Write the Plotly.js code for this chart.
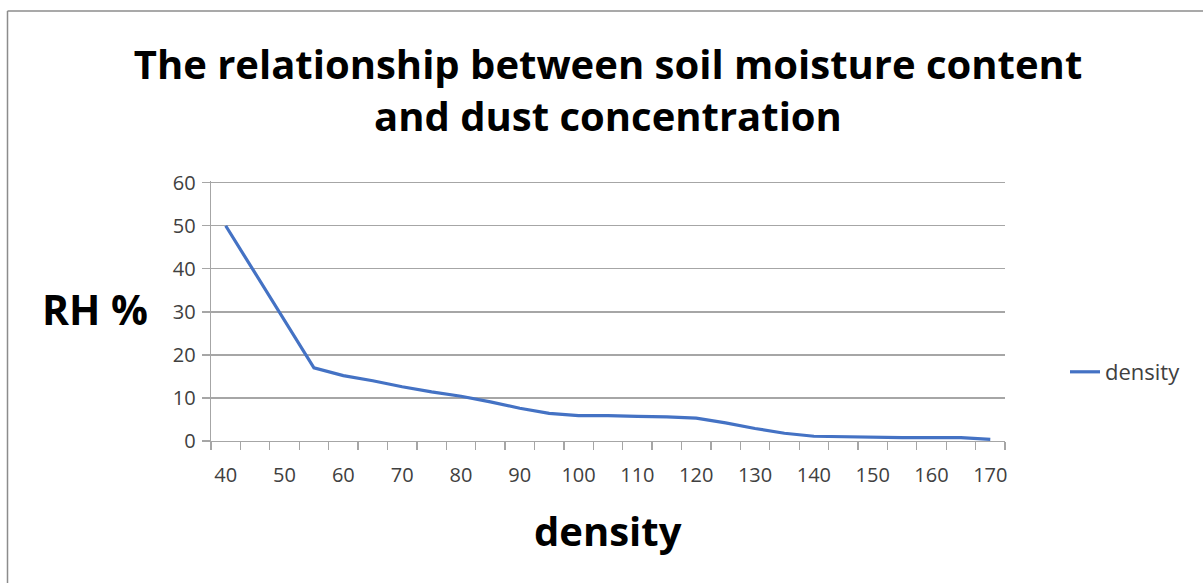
<!DOCTYPE html>
<html>
<head>
<meta charset="utf-8">
<script src="https://cdn.plot.ly/plotly-3.0.1.min.js"></script>
<style>
html,body{margin:0;padding:0;background:#fff;}
#chart{width:1203px;height:583px;}
</style>
</head>
<body>
<div id="chart"></div>
<script>
// Data
const densityValues = [40, 45, 50, 55, 60, 65, 70, 75, 80, 85, 90, 95, 100, 105, 110, 115, 120, 125, 130, 135, 140, 145, 150, 155, 160, 165, 170];
const rhValues = [50, 39, 28, 17, 15.2, 14, 12.6, 11.4, 10.4, 9.1, 7.6, 6.4, 5.9, 5.9, 5.7, 5.6, 5.3, 4.2, 2.9, 1.8, 1.1, 1.0, 0.8, 0.8, 0.8, 0.8, 0.4];
const xTickLabels = [40, 50, 60, 70, 80, 90, 100, 110, 120, 130, 140, 150, 160, 170];
const yTickLabels = [0, 10, 20, 30, 40, 50, 60];
const seriesName = 'density';
const chartTitle = 'The relationship between soil moisture content<br>and dust concentration';
const xTitle = 'density';
const yTitle = 'RH %';

const W = 1203, H = 583;
const L = 211, R = 198, T = 181, B = 142;
const pw = W - L - R, ph = H - T - B;
const px = v => (v - L) / pw;          // pixel x -> paper x
const py = v => (H - B - v) / ph;      // pixel y -> paper y

const font = '"Open Sans", "Noto Sans", sans-serif';
const grey = '#a6a6a6';

const trace = {
  x: densityValues,
  y: rhValues,
  type: 'scatter',
  mode: 'lines',
  name: seriesName,
  line: {color: '#4472C4', width: 3.2}
};

const layout = {
  width: W, height: H,
  margin: {l: L, r: R, t: T, b: B, pad: 0},
  paper_bgcolor: '#fff', plot_bgcolor: '#fff',
  font: {family: font, color: '#404040', size: 20},
  title: {
    text: chartTitle,
    font: {family: font, size: 40, color: '#000', weight: 'bold'},
    xref: 'paper', x: 0.5, xanchor: 'center',
    yref: 'container', y: 1 - 79 / H, yanchor: 'top'
  },
  showlegend: true,
  legend: {
    x: px(1065), y: py(372), xanchor: 'left', yanchor: 'middle',
    font: {family: font, size: 22, color: '#404040'},
    bgcolor: 'rgba(0,0,0,0)'
  },
  xaxis: {
    range: [37.5, 172.5],
    tickmode: 'array', tickvals: xTickLabels, ticktext: xTickLabels.map(String),
    ticks: '', showgrid: false, zeroline: false,
    showline: true, linecolor: grey, linewidth: 1.3,
    tickfont: {family: font, size: 20, color: '#404040'},
    minor: {tick0: 37.5, dtick: 5, ticks: 'outside', ticklen: 8, tickcolor: grey, tickwidth: 1.3, showgrid: false},
    ticklabelstandoff: 16
  },
  yaxis: {
    range: [0, 60.4],
    tickmode: 'array', tickvals: yTickLabels, ticktext: yTickLabels.map(String),
    ticks: 'outside', ticklen: 8, tickcolor: grey, tickwidth: 1.3,
    showgrid: true, gridcolor: grey, gridwidth: 1.3, zeroline: false,
    showline: true, linecolor: grey, linewidth: 1.3,
    tickfont: {family: font, size: 20, color: '#404040'},
    ticklabelstandoff: 2
  },
  annotations: [
    {text: yTitle, xref: 'paper', yref: 'paper', x: px(95), y: py(309),
     xanchor: 'center', yanchor: 'middle', showarrow: false,
     font: {family: font, size: 41, color: '#000', weight: 'bold'}},
    {text: xTitle, xref: 'paper', yref: 'paper', x: px(608), y: py(530),
     xanchor: 'center', yanchor: 'middle', showarrow: false,
     font: {family: font, size: 40, color: '#000', weight: 'bold'}}
  ],
  shapes: [
    {type: 'line', xref: 'paper', yref: 'paper', x0: px(7.5), x1: px(1203), y0: py(11), y1: py(11),
     line: {color: '#8c8c8c', width: 1.5}},
    {type: 'line', xref: 'paper', yref: 'paper', x0: px(7.5), x1: px(7.5), y0: py(11), y1: py(583),
     line: {color: '#8c8c8c', width: 1.5}}
  ]
};

Plotly.newPlot('chart', [trace], layout, {displayModeBar: false, staticPlot: true});
</script>
</body>
</html>
